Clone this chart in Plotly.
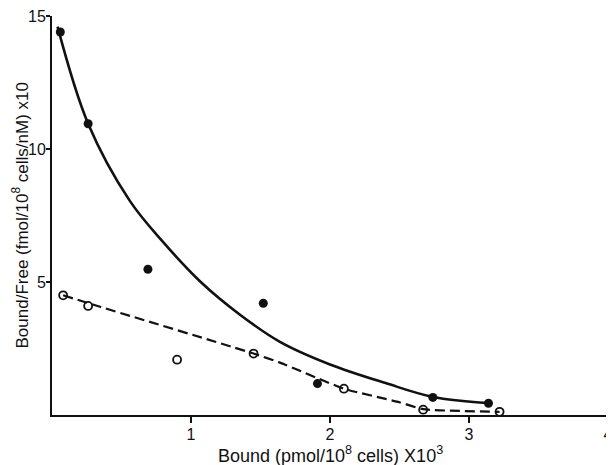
import plotly.graph_objects as go

# Filled circles (solid curve series)
filled_x = [0.06, 0.26, 0.69, 1.52, 1.91, 2.74, 3.14]
filled_y = [14.4, 10.95, 5.48, 4.2, 1.18, 0.66, 0.44]

# Open circles (dashed line series)
open_x = [0.08, 0.26, 0.90, 1.45, 2.10, 2.67, 3.22]
open_y = [4.5, 4.1, 2.08, 2.31, 0.99, 0.2, 0.12]

# Fitted solid curve (traced)
curve_x = [0.04, 0.26, 0.56, 0.80, 1.07, 1.35, 1.64, 2.00, 2.40, 2.74, 3.14]
curve_y = [14.6, 10.95, 8.05, 6.5, 5.0, 3.78, 2.75, 1.9, 1.2, 0.68, 0.45]

# Fitted dashed line (traced)
dash_x = [0.08, 0.345, 1.45, 1.64, 2.10, 2.50, 2.67, 3.22]
dash_y = [4.5, 4.07, 2.31, 1.97, 0.99, 0.48, 0.22, 0.12]

x_ticks = [1, 2, 3, 4]
y_ticks = [5, 10, 15]

fig = go.Figure()
fig.add_trace(go.Scatter(x=curve_x, y=curve_y, mode="lines",
                         line=dict(color="#111", width=2.6, shape="spline", smoothing=1.0),
                         showlegend=False, hoverinfo="skip"))
fig.add_trace(go.Scatter(x=dash_x, y=dash_y, mode="lines",
                         line=dict(color="#111", width=2.2, dash="10px,5px", shape="spline", smoothing=0.5),
                         showlegend=False, hoverinfo="skip"))
fig.add_trace(go.Scatter(x=filled_x, y=filled_y, mode="markers",
                         marker=dict(symbol="circle", size=9, color="#111"),
                         showlegend=False, cliponaxis=False))
fig.add_trace(go.Scatter(x=open_x, y=open_y, mode="markers",
                         marker=dict(symbol="circle-open", size=8, color="#111", line=dict(width=1.8)),
                         showlegend=False, cliponaxis=False))

font = dict(family="Liberation Sans, Arial, sans-serif", size=16, color="#111")
# page body has an 8px margin, so the figure is sized/offset to compensate
fig.update_layout(
    width=606, height=457,
    margin=dict(l=44, r=6, t=8, b=50, autoexpand=False),
    paper_bgcolor="white", plot_bgcolor="white",
    font=font,
    xaxis=dict(range=[0, 4], tickvals=x_ticks, ticktext=[str(v) for v in x_ticks],
               showgrid=False, zeroline=False, showline=True, linecolor="#111", linewidth=2,
               ticks="outside", ticklen=6, tickwidth=2, tickcolor="#111", automargin=False,
               ticklabeloverflow="allow", ticklabelstandoff=-2, tickfont=dict(size=16)),
    yaxis=dict(range=[0, 15], tickvals=y_ticks, ticktext=[str(v) for v in y_ticks],
               showgrid=False, zeroline=False, showline=True, linecolor="#111", linewidth=2,
               ticks="outside", ticklen=4, tickwidth=2, tickcolor="#111", automargin=False,
               ticklabeloverflow="allow", ticklabelstandoff=-3, tickfont=dict(size=16)),
    annotations=[
        dict(text="Bound (pmol/10<sup>8</sup> cells) X10<sup>3</sup>", xref="paper", yref="paper",
             x=0.5, y=0, xanchor="center", yanchor="top", yshift=-26, showarrow=False,
             font=dict(size=18)),
        dict(text="Bound/Free (fmol/10<sup>8</sup> cells/nM) x10", xref="paper", yref="paper",
             x=0, y=0.5, xanchor="right", yanchor="middle", xshift=-19, textangle=-90,
             showarrow=False, font=dict(size=17)),
    ],
)
fig.write_html("out.html")
